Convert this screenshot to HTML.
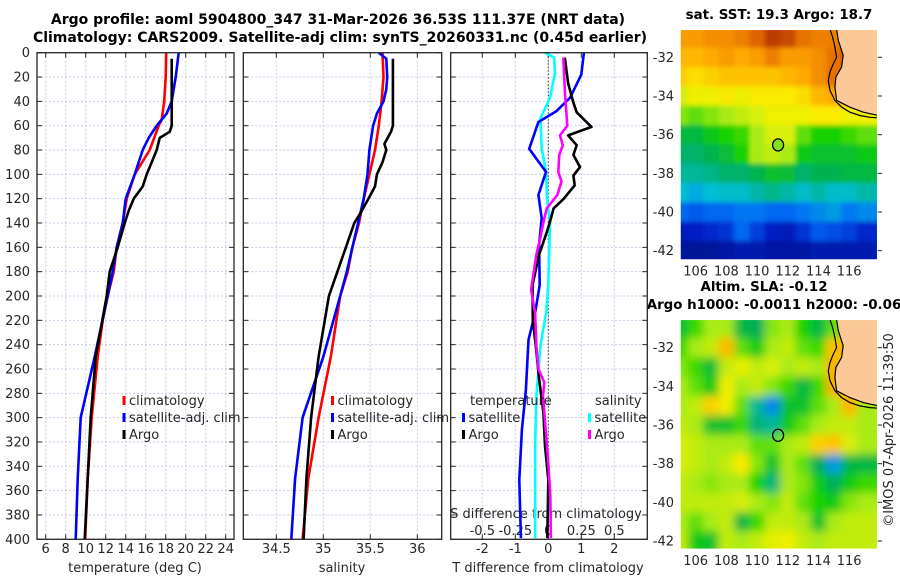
<!DOCTYPE html>
<html><head><meta charset="utf-8"><style>
html,body{margin:0;padding:0;background:#fff;}
svg{display:block;font-family:"DejaVu Sans","Liberation Sans",sans-serif;}
text{fill:#262626;font-size:13px;}
.b{font-weight:bold;font-size:14px;fill:#000;}
.bm{font-weight:bold;font-size:13.4px;fill:#000;}
</style></head><body>
<svg id="chart" width="900" height="580" viewBox="0 0 900 580" xmlns="http://www.w3.org/2000/svg">
<defs>
<clipPath id="c1"><rect x="680" y="29.3" width="197.7" height="230.7"/></clipPath>
<clipPath id="c2"><rect x="680" y="319.3" width="197.7" height="230"/></clipPath>
<clipPath id="cp1"><rect x="37" y="52.7" width="197" height="486.6"/></clipPath>
<clipPath id="cp2"><rect x="243.3" y="52.7" width="198.4" height="486.6"/></clipPath>
<clipPath id="cp3"><rect x="450.7" y="52.7" width="196.6" height="486.6"/></clipPath>
<filter id="bl1" x="-5%" y="-5%" width="110%" height="110%"><feGaussianBlur stdDeviation="2.5"/></filter>
<filter id="bl2" x="-5%" y="-5%" width="110%" height="110%"><feGaussianBlur stdDeviation="4.5"/></filter>
</defs>
<text class="b" x="338" y="24" text-anchor="middle">Argo profile: aoml 5904800_347 31-Mar-2026 36.53S 111.37E (NRT data)</text>
<text class="b" x="340" y="42" text-anchor="middle">Climatology: CARS2009. Satellite-adj clim: synTS_20260331.nc (0.45d earlier)</text>
<text class="bm" x="779" y="19" text-anchor="middle">sat. SST: 19.3 Argo: 18.7</text>
<text class="bm" x="764" y="291" text-anchor="middle">Altim. SLA: -0.12</text>
<text class="bm" x="774" y="309" text-anchor="middle">Argo h1000: -0.0011 h2000: -0.06</text>
<text x="893" y="430" text-anchor="middle" transform="rotate(-90 893 430)">©IMOS 07-Apr-2026 11:39:50</text>
</svg>
<script>
// ---------- data ----------
const depthTicks = [0,20,40,60,80,100,120,140,160,180,200,220,240,260,280,300,320,340,360,380,400];
const tTicks = [6,8,10,12,14,16,18,20,22,24];
const sTicks = [34.5,35,35.5,36];
const dTTicks = [-2,-1,0,1,2];
const dSTicks = [-0.5,-0.25,0,0.25,0.5];
const dSTickLabels = ['-0.5','-0.25','0','0.25','0.5'];

const climTDepth = [0,20,40,55,60,80,100,120,140,160,180,200,220,250,300,350,400];
const climT = [18.05,18.0,17.85,17.6,17.3,16.4,14.9,14.1,13.7,13.1,12.8,12.2,11.7,11.2,10.6,10.2,9.95];
const satTDepth = [0,20,40,50,60,70,80,100,120,140,160,180,200,250,300,350,400];
const satT = [19.3,19.0,18.6,18.1,17.1,16.3,15.7,14.9,14.0,13.7,13.1,12.7,12.2,10.9,9.5,9.2,9.0];
const argoTDepth = [5,60,65,70,80,90,100,110,120,130,140,160,180,200,250,300,350,400];
const argoT = [18.6,18.6,18.4,17.4,17.1,16.6,16.1,15.7,14.8,14.3,13.9,13.2,12.4,12.1,11.0,10.5,10.2,9.9];

const climSDepth = [0,20,40,60,80,100,120,140,160,180,200,250,300,350,400];
const climS = [35.63,35.64,35.62,35.59,35.55,35.49,35.43,35.38,35.31,35.26,35.18,35.08,34.95,34.84,34.78];
const satSDepth = [0,5,20,30,40,50,60,80,100,120,140,160,180,200,250,300,350,400];
const satS = [35.59,35.67,35.68,35.67,35.64,35.57,35.53,35.49,35.47,35.43,35.37,35.31,35.25,35.18,35.0,34.78,34.7,34.66];
const argoSDepth = [5,60,65,75,80,90,100,110,120,130,140,160,180,200,250,300,350,400];
const argoS = [35.74,35.74,35.72,35.65,35.67,35.63,35.57,35.55,35.48,35.41,35.33,35.24,35.15,35.06,34.95,34.87,34.82,34.79];

const dTsatDepth = [0,18,37,48,57,79,98,117,136,158,191,214,236,277,310,351,399];
const dTsat = [1.08,1.0,0.66,0.25,-0.3,-0.58,-0.07,-0.3,-0.2,-0.28,-0.26,-0.4,-0.6,-0.68,-0.8,-0.88,-0.83];
const dTargoDepth = [4,25,41,49,61,68,76,84,94,101,109,120,128,138,147,166,191,220,241,268,296,323,351,399];
const dTargo = [0.5,0.6,0.76,0.86,1.31,0.6,0.86,0.76,0.96,0.76,0.8,0.47,0.16,0.06,-0.04,-0.28,-0.48,-0.47,-0.38,-0.28,-0.15,-0.1,0.0,-0.03];
const dSsatDepth = [0,4,17,37,54,79,98,120,139,191,214,241,282,323,399];
const dSsat = [-0.025,0.045,0.05,0.013,-0.06,-0.05,-0.017,-0.01,0.013,0.0,-0.017,-0.06,-0.09,-0.1,-0.1];
const dSargoDepth = [4,32,60,68,76,84,98,106,117,128,141,152,166,191,195,214,241,260,271,282,310,337,364,399];
const dSargo = [0.114,0.126,0.144,0.089,0.11,0.083,0.076,0.1,0.068,-0.012,-0.04,-0.06,-0.09,-0.125,-0.13,-0.1,-0.09,-0.075,-0.03,-0.04,-0.02,0.0,0.015,0.02];

// map grids: rows lat -31..-42, cols lon 105..117 (colormap index 0..1)
const mapLats = [-31,-32,-33,-34,-35,-36,-37,-38,-39,-40,-41,-42];
const mapLons = [105,106,107,108,109,110,111,112,113,114,115,116,117];
const sstGrid = [
[.80,.80,.82,.82,.84,.88,.94,.92,.86,.84,.84,.90,.90],
[.76,.76,.78,.80,.78,.80,.84,.80,.80,.82,.86,.90,.90],
[.72,.70,.72,.74,.74,.74,.74,.76,.78,.82,.86,.90,.90],
[.64,.66,.66,.68,.66,.68,.68,.68,.70,.76,.78,.80,.80],
[.58,.56,.58,.60,.62,.64,.66,.66,.66,.68,.68,.66,.66],
[.46,.46,.50,.52,.54,.60,.64,.64,.56,.52,.52,.54,.56],
[.43,.43,.45,.47,.52,.60,.62,.60,.50,.48,.48,.48,.50],
[.40,.40,.41,.43,.43,.45,.48,.47,.43,.45,.45,.46,.46],
[.36,.34,.36,.37,.37,.39,.41,.39,.37,.39,.37,.37,.39],
[.26,.24,.26,.26,.28,.28,.26,.26,.28,.30,.32,.28,.30],
[.12,.14,.16,.18,.26,.20,.14,.12,.18,.24,.22,.20,.16],
[.06,.06,.06,.08,.10,.10,.08,.08,.08,.10,.10,.10,.10]];
const slaGrid = [
[.48,.54,.60,.60,.46,.44,.58,.60,.52,.46,.56,.62,.62],
[.54,.60,.62,.76,.56,.50,.60,.62,.56,.54,.74,.80,.62],
[.58,.54,.47,.62,.65,.62,.64,.60,.62,.60,.78,.62,.62],
[.60,.56,.50,.66,.60,.62,.58,.54,.46,.54,.77,.78,.62],
[.60,.62,.72,.66,.56,.40,.30,.48,.48,.56,.60,.76,.60],
[.62,.60,.48,.48,.54,.42,.40,.50,.56,.60,.62,.62,.60],
[.64,.62,.60,.60,.60,.56,.56,.60,.62,.72,.74,.64,.60],
[.64,.62,.60,.62,.68,.58,.48,.60,.56,.44,.32,.46,.46],
[.62,.60,.58,.60,.60,.52,.42,.60,.58,.50,.44,.50,.54],
[.62,.62,.62,.62,.64,.60,.58,.62,.56,.52,.50,.58,.60],
[.60,.56,.60,.62,.46,.54,.62,.62,.60,.48,.60,.62,.62],
[.62,.50,.48,.62,.60,.62,.65,.66,.62,.60,.62,.62,.62]];
const argoLon = 111.37, argoLat = -36.53;
const lonTicks = [106,108,110,112,114,116];
const latTicks = [-32,-34,-36,-38,-40,-42];
// coastline (lon, lat)
const coastOuter = [[114.75,-30.55],[114.92,-30.95],[115.07,-31.47],[115.18,-31.99],[114.92,-32.42],[114.75,-32.76],[114.64,-33.2],[114.75,-33.71],[115.07,-34.23],[115.51,-34.58],[116.05,-34.84],[116.7,-35.01],[117.35,-35.1],[117.86,-35.13]];
const coastLand = [[115.18,-30.55],[115.29,-31.12],[115.61,-31.9],[115.51,-32.5],[115.14,-33.02],[115.07,-33.54],[115.18,-34.23],[116.05,-34.58],[116.92,-34.84],[117.86,-35.0]];

// ---------- helpers ----------
const NS='http://www.w3.org/2000/svg';
const svg=document.getElementById('chart');
function mk(tag,attrs,parent){const e=document.createElementNS(NS,tag);for(const k in attrs)e.setAttribute(k,attrs[k]);(parent||svg).appendChild(e);return e;}
const Y0=52.7, Y1=539.3;
function yD(d){return Y0+d*(Y1-Y0)/400;}
function lin(d0,d1,r0,r1){return v=>r0+(v-d0)*(r1-r0)/(d1-d0);}

const panels=[
 {x0:37,x1:234,name:'temperature',xs:lin(6,24,45.7,225.7),grid:tTicks},
 {x0:243.3,x1:441.7,name:'salinity',xs:lin(34.5,36,276.3,417.3),grid:sTicks},
 {x0:450.7,x1:647.3,name:'difference',xs:lin(-2,2,482.3,614.3),grid:dTTicks}
];
const sx3=lin(-0.5,0.5,482.3,614.3);

panels.forEach((p,pi)=>{
 const g=mk('g',{});
 
 
 depthTicks.forEach(d=>{
  const l=mk('line',{x1:p.x0,x2:p.x1,y1:yD(d),y2:yD(d),stroke:'#c4cbe6','stroke-width':1,'stroke-dasharray':'2,2'},g);
  
  
 });
 p.grid.forEach(v=>{
  const x=p.xs(v);
  const l=mk('line',{x1:x,x2:x,y1:Y0,y2:Y1,stroke:'#c4cbe6','stroke-width':1,'stroke-dasharray':'2,2'},g);
  
  
 });
 depthTicks.forEach(d=>{
  mk('line',{x1:p.x0,x2:p.x0+5,y1:yD(d),y2:yD(d),stroke:'#262626'},g);
  mk('line',{x1:p.x1,x2:p.x1-5,y1:yD(d),y2:yD(d),stroke:'#262626'},g);
 });
 p.grid.forEach(v=>{
  const x=p.xs(v);
  mk('line',{x1:x,x2:x,y1:Y1,y2:Y1-5,stroke:'#262626'},g);
  mk('line',{x1:x,x2:x,y1:Y0,y2:Y0+5,stroke:'#262626'},g);
 });
 p.g=g;
});

// y tick labels
depthTicks.forEach(d=>{
 const t=mk('text',{x:30,y:yD(d)+4.5,'text-anchor':'end'});
 t.textContent=d;
 
 
});
tTicks.forEach(v=>{const t=mk('text',{x:panels[0].xs(v),y:553,'text-anchor':'middle'});t.textContent=v;
 
 });
sTicks.forEach(v=>{const t=mk('text',{x:panels[1].xs(v),y:553,'text-anchor':'middle'});t.textContent=v;
 
 });
dTTicks.forEach(v=>{const t=mk('text',{x:panels[2].xs(v),y:553,'text-anchor':'middle'});t.textContent=v;
 
 });
dSTicks.forEach((v,i)=>{const t=mk('text',{x:sx3(v),y:535,'text-anchor':'middle'});t.textContent=dSTickLabels[i];
 
 });
[['temperature (deg C)',135,'temperature-axis-title'],['salinity',342,'salinity-axis-title'],['T difference from climatology',548,'t-diff-axis-title']].forEach(a=>{
 const t=mk('text',{x:a[1],y:572,'text-anchor':'middle'});t.textContent=a[0];
 
 
});
{const t=mk('text',{x:546,y:518,'text-anchor':'middle'});t.textContent='S difference from climatology';
 
 }

// zero line panel 3
{const x=panels[2].xs(0);const l=mk('line',{x1:x,x2:x,y1:Y0,y2:Y1,stroke:'#333','stroke-width':1,'stroke-dasharray':'1.5,2'});
 
 }

function series(depths,vals,xs,color,clip,name){
 const pts=depths.map((d,i)=>xs(vals[i]).toFixed(1)+','+yD(d).toFixed(1)).join(' ');
 const pl=mk('polyline',{points:pts,fill:'none',stroke:color,'stroke-width':2.6,'stroke-linejoin':'round','clip-path':'url(#'+clip+')'});
 
 
}
series(climTDepth,climT,panels[0].xs,'#ff0000','cp1','temperature-climatology-line');
series(satTDepth,satT,panels[0].xs,'#0000ff','cp1','temperature-satellite-line');
series(argoTDepth,argoT,panels[0].xs,'#000000','cp1','temperature-argo-line');
series(climSDepth,climS,panels[1].xs,'#ff0000','cp2','salinity-climatology-line');
series(satSDepth,satS,panels[1].xs,'#0000ff','cp2','salinity-satellite-line');
series(argoSDepth,argoS,panels[1].xs,'#000000','cp2','salinity-argo-line');
series(dSsatDepth,dSsat,sx3,'#00ffff','cp3','s-diff-satellite-line');
series(dTsatDepth,dTsat,panels[2].xs,'#0000ff','cp3','t-diff-satellite-line');
series(dTargoDepth,dTargo,panels[2].xs,'#000000','cp3','t-diff-argo-line');
series(dSargoDepth,dSargo,sx3,'#ff00ff','cp3','s-diff-argo-line');

panels.forEach(p=>{
 const r=mk('rect',{x:p.x0,y:Y0,width:p.x1-p.x0,height:Y1-Y0,fill:'none',stroke:'#262626','stroke-width':1.3});
 
 
});

// legends
function legend(x,y,color,label,name){
 const m=mk('rect',{x:x,y:y-9,width:3,height:9,fill:color});
 
 
 const t=mk('text',{x:x+6.5,y:y});t.textContent=label;
 
 
}
legend(122.5,405,'#ff0000','climatology','legend-climatology');
legend(122.5,422,'#0000ff','satellite-adj. clim','legend-satellite');
legend(122.5,439,'#000000','Argo','legend-argo');
legend(331,405,'#ff0000','climatology','legend-climatology-2');
legend(331,422,'#0000ff','satellite-adj. clim','legend-satellite-2');
legend(331,439,'#000000','Argo','legend-argo-2');
{const t=mk('text',{x:470,y:405});t.textContent='temperature';
 
 }
{const t=mk('text',{x:595,y:405});t.textContent='salinity';
 
 }
legend(462,422,'#0000ff','satellite','legend-t-satellite');
legend(462,439,'#000000','Argo','legend-t-argo');
legend(588,422,'#00ffff','satellite','legend-s-satellite');
legend(588,439,'#ff00ff','Argo','legend-s-argo');

// ---------- maps ----------
const cmStops=[[0,[0,16,122]],[0.15,[0,32,200]],[0.27,[0,110,245]],[0.36,[0,190,215]],[0.44,[0,175,90]],[0.52,[20,210,0]],[0.6,[170,235,20]],[0.67,[250,240,0]],[0.78,[255,170,0]],[0.88,[225,100,0]],[1,[150,20,0]]];
function cmap(v){
 for(let i=1;i<cmStops.length;i++){if(v<=cmStops[i][0]){const a=cmStops[i-1],b=cmStops[i];const f=(v-a[0])/(b[0]-a[0]);
  const c=a[1].map((x,k)=>Math.round(x+(b[1][k]-x)*f));return 'rgb('+c.join(',')+')';}}
 return 'rgb(150,20,0)';
}
const lonX=lin(104.98,117.86,680,877.7);
const maps=[
 {grid:sstGrid,clip:'c1',top:29.3,bot:260,latY:lin(-32,-42,57.3,250.7),filter:'bl1',name:'sst-map',fillArgo:'#80e020'},
 {grid:slaGrid,clip:'c2',top:319.3,bot:549.3,latY:lin(-32,-42,347.7,541),filter:'bl2',name:'sla-map',fillArgo:'none'}
];
maps.forEach(m=>{
 const g=mk('g',{'clip-path':'url(#'+m.clip+')'});
 
 
 const cg=mk('g',{filter:'url(#'+m.filter+')'},g);
 mapLats.forEach((lat,i)=>{
  mapLons.forEach((lon,j)=>{
   let la0=lat+0.5, la1=lat-0.5, lo0=lon-0.5, lo1=lon+0.5;
   if(i===0)la0+=2; if(i===mapLats.length-1)la1-=2;
   if(j===0)lo0-=2; if(j===mapLons.length-1)lo1+=2;
   const x=lonX(lo0), y=m.latY(la0);
   const c=mk('rect',{x:x.toFixed(1),y:y.toFixed(1),width:(lonX(lo1)-x+0.6).toFixed(1),height:(m.latY(la1)-y+0.6).toFixed(1),fill:cmap(m.grid[i][j])},cg);
   
   
  });
 });
 const landPts=coastLand.map(p=>lonX(p[0]).toFixed(1)+','+m.latY(p[1]).toFixed(1)).join(' ')+' 880,'+m.latY(-35.0).toFixed(1)+' 880,'+(m.top-2)+' '+lonX(115.18).toFixed(1)+','+(m.top-2);
 const land=mk('polygon',{points:landPts,fill:'#fbc997',stroke:'#000','stroke-width':1.2},g);
 
 
 const co=mk('polyline',{points:coastOuter.map(p=>lonX(p[0]).toFixed(1)+','+m.latY(p[1]).toFixed(1)).join(' '),fill:'none',stroke:'#000','stroke-width':1.2},g);
 
 
 const ac=mk('ellipse',{cx:lonX(argoLon),cy:m.latY(argoLat),rx:5.5,ry:6,fill:m.fillArgo,stroke:'#000','stroke-width':1.3});
 
 
 const box=mk('rect',{x:680,y:m.top,width:197.7,height:m.bot-m.top,fill:'none',stroke:'#fff','stroke-width':1.5});
 
 
 latTicks.forEach(v=>{
  const t=mk('text',{x:674,y:m.latY(v)+4.5,'text-anchor':'end'});t.textContent=v;
  
  
  mk('line',{x1:877.7,x2:882,y1:m.latY(v),y2:m.latY(v),stroke:'#262626'});
 });
 lonTicks.forEach(v=>{
  const t=mk('text',{x:lonX(v),y:m.bot+15.5,'text-anchor':'middle'});t.textContent=v;
  
  
 });
});
</script>
</body></html>
